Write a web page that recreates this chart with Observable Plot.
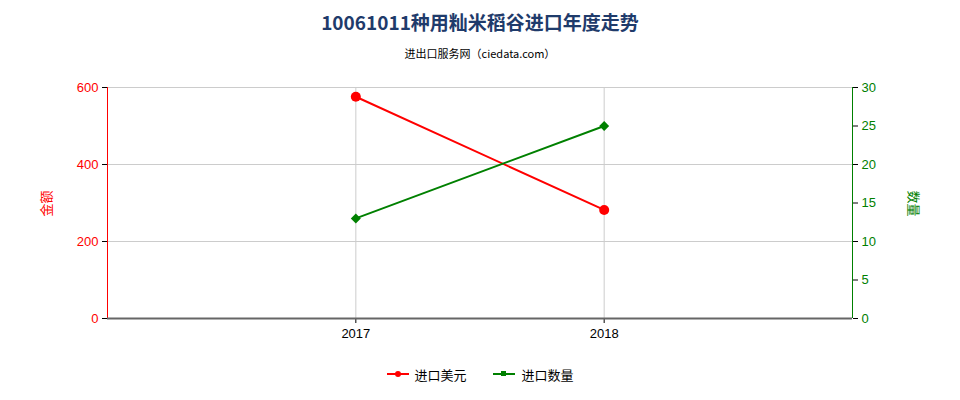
<!DOCTYPE html>
<html><head><meta charset="utf-8">
<script src="https://cdn.jsdelivr.net/npm/d3@7"></script>
<script src="https://cdn.jsdelivr.net/npm/@observablehq/plot@0.6"></script>
<style>
body{margin:0;background:#fff;}
#wrap{position:relative;width:960px;height:400px;font-family:"Liberation Sans",Arial,sans-serif;}
#title{position:absolute;left:0;top:8px;width:960px;text-align:center;font:bold 19px "Noto Sans CJK SC",sans-serif;color:#1f3b6b;}
#sub{position:absolute;left:0;top:45px;width:960px;text-align:center;font:11px "Noto Sans CJK SC",monospace;color:#000;}
#legend{position:absolute;left:0;top:360px;width:960px;text-align:center;font:13px "Noto Sans CJK SC",sans-serif;color:#000;}
.li{display:inline-flex;align-items:center;margin:0 12px;}
.sw{position:relative;width:22px;height:2px;margin-right:6px;}
.sw i{position:absolute;left:8px;top:-2px;width:6px;height:6px;border-radius:3px;}
.ytitle{position:absolute;font:13px "Noto Sans CJK SC",sans-serif;}
#plot{position:absolute;left:0;top:0;}
</style></head>
<body><div id="wrap">
<div id="plot"></div>
<div id="title">10061011种用籼米稻谷进口年度走势</div>
<div id="sub">进出口服务网（ciedata.com）</div>
<div class="ytitle" style="left:32px;top:194px;color:red;transform:rotate(-90deg);">金额</div>
<div class="ytitle" style="left:901px;top:194px;color:green;transform:rotate(90deg);">数量</div>
<div id="legend">
<span class="li"><span class="sw" style="background:red"><i style="background:red"></i></span>进口美元</span>
<span class="li"><span class="sw" style="background:green"><i style="background:green;border-radius:0;width:5px;height:5px;"></i></span>进口数量</span>
</div>
</div>
<script>
const years = [2017, 2018];
const amountUSD = [576, 282];
const quantity = [13, 25];
const leftTicks = [0, 200, 400, 600];
const rightTicks = [0, 5, 10, 15, 20, 25, 30];
const ratio = 600 / 30;

const amountData = years.map((y, i) => ({year: y, v: amountUSD[i]}));
const qtyData = years.map((y, i) => ({year: y, v: quantity[i] * ratio}));
const rightTickPos = rightTicks.map(d => d * ratio);

const chart = Plot.plot({
  width: 960, height: 400,
  marginLeft: 107, marginRight: 108, marginTop: 87, marginBottom: 82,
  style: {fontFamily: '"Liberation Sans", Arial, sans-serif', fontSize: "13px", background: "transparent"},
  x: {domain: [2016, 2019], axis: null},
  y: {domain: [0, 600], axis: null},
  marks: [
    Plot.ruleY([200, 400, 600], {stroke: "#cccccc", strokeWidth: 1}),
    Plot.ruleX(years, {stroke: "#cccccc", strokeWidth: 1}),
    // tick marks (black)
    Plot.axisY({anchor: "left", ticks: leftTicks, tickSize: 5, stroke: "black", fill: "none", label: null}),
    Plot.axisY({anchor: "right", ticks: rightTickPos, tickSize: 5, stroke: "black", fill: "none", label: null}),
    Plot.axisX({anchor: "bottom", ticks: years, tickSize: 5, stroke: "black", fill: "none", label: null}),
    // tick labels
    Plot.axisY({anchor: "left", ticks: leftTicks, tickFormat: d => d, tickSize: 0, tickPadding: 9, fill: "red", fontSize: 13, label: null}),
    Plot.axisY({anchor: "right", ticks: rightTickPos, tickFormat: d => d / ratio, tickSize: 0, tickPadding: 9, fill: "green", fontSize: 13, label: null}),
    Plot.axisX({anchor: "bottom", ticks: years, tickFormat: d => String(d), tickSize: 0, tickPadding: 10, fill: "black", fontSize: 13, label: null}),
    Plot.ruleX([2016], {y1: 0, y2: 600, stroke: "red", strokeWidth: 1}),
    Plot.ruleX([2019], {y1: 0, y2: 600, stroke: "green", strokeWidth: 1}),
    Plot.ruleY([0], {stroke: "#666666", strokeWidth: 2}),
    Plot.line(amountData, {x: "year", y: "v", stroke: "red", strokeWidth: 2}),
    Plot.dot(amountData, {x: "year", y: "v", fill: "red", r: 5}),
    Plot.line(qtyData, {x: "year", y: "v", stroke: "green", strokeWidth: 2}),
    Plot.dot(qtyData, {x: "year", y: "v", fill: "green", symbol: "diamond2", r: 4.5})
  ]
});
document.getElementById("plot").appendChild(chart);
</script>
</body></html>
